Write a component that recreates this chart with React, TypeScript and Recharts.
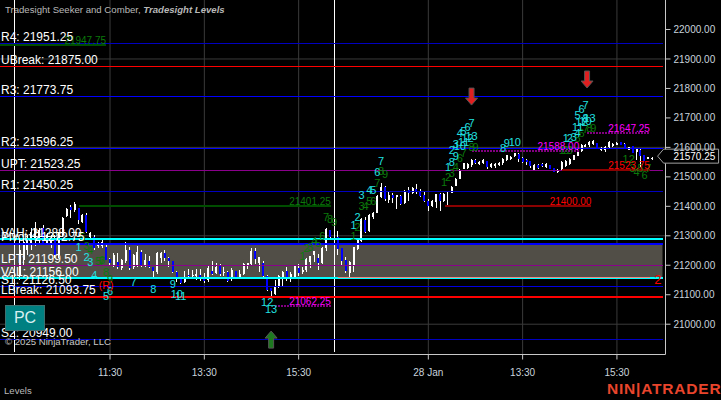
import React from 'react';
import {
  ComposedChart, Bar, Scatter, XAxis, YAxis, CartesianGrid, ReferenceLine, ReferenceArea,
} from 'recharts';

const FONT = '"Liberation Sans", Arial, sans-serif';

// 5 minute bars, index 0 is the left edge of the plot. Index 85 sits under the session line.
const firstBar = 5;
const opens = [
  21167, 21218, 21252, 21269, 21285, 21285, 21326, 21275, 21269, 21292, 21235, 21302, 21367, 21398, 21387, 21394,
  21347, 21370, 21296, 21296, 21265, 21265, 21262, 21221, 21201, 21211, 21191, 21214, 21252, 21194, 21201, 21245,
  21197, 21214, 21194, 21177, 21225, 21241, 21225, 21214, 21177, 21157, 21143, 21167, 21164, 21164, 21167, 21157,
  21150, 21180, 21174, 21197, 21174, 21177, 21157, 21180, 21157, 21170, 21201, 21204, 21248, 21208, 21208, 21164,
  21123, 21102, 21126, 21157, 21180, 21157, 21160, 21191, 21177, 21184, 21211, 21235, 21225, 21208, 21258, 21319,
  null, 21296, 21258, 21218, 21174, 21197, 21255, 21282, 21353, 21316, 21364, 21377, 21432, 21465, 21421, 21438,
  21432, 21435, 21411, 21455, 21445, 21459, 21448, 21438, 21418, 21401, 21415, 21442, 21418, 21448, 21445, 21469,
  21493, 21526, 21530, 21540, 21557, 21543, 21547, 21554, 21533, 21537, 21540, 21547, 21557, 21560, 21571, 21577,
  21564, 21557, 21554, 21523, 21540, 21543, 21533, 21540, 21530, 21516, 21523, 21537, 21543, 21557, 21571, 21588,
  21601, 21608, 21611, 21615, 21591, 21591, 21601, 21605, 21608, 21618, 21611, 21591, 21605, 21584, 21591, 21574,
  21560, 21560,
];
const highs = [
  21285, 21292, 21302, 21326, 21347, 21326, 21336, 21309, 21302, 21302, 21309, 21364, 21394, 21404, 21415, 21394,
  21374, 21377, 21313, 21302, 21279, 21285, 21269, 21225, 21241, 21241, 21221, 21279, 21262, 21238, 21265, 21252,
  21238, 21231, 21194, 21245, 21245, 21252, 21228, 21214, 21180, 21160, 21180, 21187, 21184, 21187, 21187, 21174,
  21197, 21214, 21208, 21204, 21194, 21180, 21191, 21180, 21184, 21208, 21208, 21258, 21258, 21228, 21214, 21167,
  21123, 21150, 21167, 21180, 21194, 21177, 21201, 21204, 21194, 21225, 21231, 21248, 21238, 21262, 21326, 21319,
  null, 21316, 21258, 21228, 21214, 21262, 21285, 21360, 21364, 21374, 21381, 21438, 21479, 21469, 21448, 21445,
  21438, 21438, 21455, 21465, 21465, 21476, 21459, 21448, 21425, 21421, 21442, 21445, 21445, 21452, 21469, 21496,
  21526, 21547, 21547, 21560, 21560, 21554, 21560, 21554, 21547, 21547, 21550, 21564, 21574, 21571, 21581, 21581,
  21567, 21560, 21554, 21543, 21543, 21547, 21547, 21540, 21530, 21526, 21554, 21557, 21564, 21574, 21594, 21611,
  21611, 21622, 21625, 21615, 21601, 21605, 21622, 21615, 21618, 21618, 21615, 21601, 21605, 21598, 21594, 21574,
  21567, 21567,
];
const lows = [
  21150, 21201, 21235, 21252, 21265, 21269, 21269, 21269, 21258, 21225, 21225, 21296, 21364, 21360, 21381, 21340,
  21343, 21309, 21292, 21252, 21258, 21258, 21218, 21197, 21194, 21187, 21184, 21208, 21184, 21187, 21194, 21194,
  21194, 21191, 21160, 21170, 21208, 21214, 21194, 21174, 21143, 21136, 21140, 21157, 21157, 21150, 21147, 21140,
  21143, 21167, 21170, 21164, 21164, 21143, 21147, 21153, 21153, 21167, 21187, 21201, 21204, 21177, 21160, 21113,
  21092, 21099, 21123, 21126, 21147, 21143, 21157, 21164, 21170, 21177, 21191, 21211, 21184, 21204, 21248, 21292,
  null, 21235, 21201, 21174, 21157, 21177, 21252, 21279, 21309, 21313, 21357, 21377, 21428, 21418, 21411, 21411,
  21391, 21404, 21408, 21418, 21442, 21442, 21432, 21415, 21384, 21398, 21394, 21384, 21415, 21398, 21445, 21469,
  21493, 21526, 21526, 21533, 21543, 21540, 21543, 21526, 21530, 21530, 21537, 21540, 21554, 21557, 21567, 21550,
  21547, 21540, 21530, 21520, 21526, 21533, 21530, 21526, 21516, 21513, 21523, 21533, 21540, 21557, 21571, 21584,
  21601, 21601, 21608, 21594, 21588, 21584, 21598, 21601, 21608, 21608, 21598, 21591, 21581, 21557, 21533, 21554,
  21560, 21557,
];
const closes = [
  21252, 21279, 21292, 21313, 21326, 21319, 21275, 21302, 21292, 21235, 21302, 21360, 21391, 21387, 21408, 21353,
  21370, 21313, 21309, 21258, 21275, 21279, 21218, 21208, 21235, 21194, 21218, 21252, 21191, 21235, 21245, 21201,
  21218, 21194, 21180, 21241, 21241, 21225, 21214, 21177, 21157, 21140, 21160, 21164, 21167, 21170, 21153, 21147,
  21191, 21170, 21194, 21170, 21177, 21147, 21184, 21157, 21170, 21204, 21208, 21248, 21221, 21228, 21164, 21116,
  21113, 21130, 21164, 21177, 21157, 21170, 21197, 21174, 21184, 21221, 21231, 21248, 21208, 21258, 21323, 21296,
  null, 21255, 21214, 21180, 21211, 21262, 21285, 21357, 21313, 21370, 21377, 21435, 21465, 21425, 21438, 21428,
  21438, 21408, 21452, 21445, 21462, 21448, 21435, 21418, 21401, 21418, 21442, 21418, 21442, 21452, 21465, 21493,
  21523, 21547, 21543, 21557, 21547, 21550, 21557, 21533, 21543, 21543, 21547, 21560, 21574, 21567, 21581, 21560,
  21550, 21550, 21537, 21540, 21530, 21537, 21543, 21526, 21516, 21523, 21550, 21554, 21560, 21574, 21591, 21608,
  21608, 21618, 21622, 21594, 21598, 21601, 21618, 21611, 21615, 21608, 21598, 21601, 21581, 21594, 21571, 21554,
  21567, 21564,
];

const priceTicks = [21000, 21100, 21200, 21300, 21400, 21500, 21600, 21700, 21800, 21900, 22000];
const gridPrices = [21000, 21300, 21600, 21900];
const timeTicks = [28, 52, 76, 109, 133, 157];
const timeLabels = ['11:30', '13:30', '15:30', '28 Jan', '13:30', '15:30'];
const sessionBars = [3.7, 85];

const levelNames = ['R4', 'UBreak', 'R3', 'R2', 'UPT', 'R1', 'VAH', 'Pivot', 'LPT', 'VAL', 'S1', 'LBreak', 'S2'];
const levelPrices = [21951.25, 21875, 21773.75, 21596.25, 21523.25, 21450.25, 21288, 21272.75, 21199.5, 21156, 21126.5, 21093.75, 20949];
const levelColors = ['#0000c0', '#ff0000', '#0000ff', '#0000ff', '#8b008b', '#0000c0', '#00ffff', '#0000ff', '#8b008b', '#00ffff', '#0000e0', '#ff0000', '#0000c0'];
const levelWidths = [1, 1, 1, 1, 1, 1, 2, 2, 1, 2, 1, 2, 1];

const greenSegments = [
  { from: 0, to: 27, price: 21947.75 },
  { from: 20, to: 84.2, price: 21401.25 },
];
const redSegments = [
  { from: 113.2, to: 150.5, price: 21400 },
  { from: 143, to: 165.4, price: 21523.75 },
];
const magentaSegments = [
  { from: 70, to: 84.2, price: 21062.25 },
  { from: 120, to: 147.4, price: 21588 },
  { from: 149.4, to: 165.4, price: 21647.25 },
];

type Mark = [number, number, string];

const cyanMarks: Mark[] = [
  [20, 21262, '1'], [22, 21228, '2'], [23, 21211, '3'], [24, 21167, '4'], [27, 21096, '5'], [28, 21113, '6'],
  [34, 21143, '7'], [39, 21119, '8'], [44, 21136, '9'], [45, 21102, '10'], [46, 21096, '11'], [68, 21075, '12'], [69, 21052, '13'],
  [90, 21336, '1'], [91, 21364, '2'], [92, 21438, '3'], [94, 21455, '4'], [95, 21455, '5'], [96, 21516, '6'], [97, 21554, '7'],
  [114, 21533, '1'], [115, 21550, '8'], [116, 21571, '9'], [115, 21591, '2'], [116, 21611, '3'], [117, 21605, '10'],
  [118, 21618, '11'], [119, 21632, '12'], [120, 21639, '13'], [117, 21649, '4'], [118, 21655, '5'], [119, 21669, '6'], [120, 21683, '7'],
  [128, 21598, '8'], [129, 21615, '9'], [131, 21618, '10'],
  [144, 21632, '1'], [145, 21632, '2'], [146, 21635, '3'], [147, 21649, '4'], [147, 21669, '11'], [148, 21686, '12'],
  [149, 21689, '10'], [150, 21700, '13'], [147, 21710, '5'], [148, 21730, '6'], [149, 21744, '7'], [149, 21700, '8'],
];

const greenMarks: Mark[] = [
  [21, 21296, '5'], [22, 21265, '3'], [23, 21252, '4'], [25, 21214, '5'], [26, 21218, '6'], [26, 21214, '7'], [27, 21177, '8'], [28, 21153, '9'],
  [77, 21231, '1'], [78, 21258, '2'], [79, 21262, '3'], [80, 21282, '4'], [81, 21275, '5'], [82, 21299, '6'], [83, 21364, '7'], [84, 21357, '8'], [85, 21347, '9'],
  [90, 21299, '1'], [91, 21330, '2'], [92, 21401, '3'], [93, 21401, '4'], [94, 21418, '5'], [95, 21418, '6'], [96, 21479, '7'], [97, 21520, '8'], [98, 21510, '9'],
  [113, 21482, '1'], [114, 21499, '2'], [115, 21513, '3'], [116, 21533, '4'], [117, 21564, '6'], [118, 21581, '7'], [120, 21601, '8'], [121, 21601, '9'],
  [143, 21591, '1'], [144, 21591, '2'], [145, 21591, '3'], [147, 21632, '5'], [148, 21649, '6'], [149, 21662, '7'], [150, 21666, '8'], [151, 21666, '9'],
  [160, 21560, '12'], [161, 21530, '3'], [162, 21516, '4'], [163, 21530, '5'], [164, 21506, '6'], [165, 21530, '7'],
];

const signalMarks: Mark[] = [[27, 21133, '(R)']];
const countMarks: Mark[] = [[167.4, 21153, '2']];
const upArrows = [{ bar: 69, price: 20946 }];
const downArrows = [{ bar: 120, price: 21774 }, { bar: 149.4, price: 21832 }];
const lastPrice = [{ bar: 167.6, price: 21570.25 }];

const candles = opens
  .map((open, i) => ({ bar: firstBar + i, open, high: highs[i], low: lows[i], close: closes[i] }))
  .filter((c) => c.high !== null);

const toPoints = (marks: Mark[]) => marks.map(([bar, price, text]) => ({ bar, price, text }));
const levelLabels = levelNames.map((name, i) => ({
  bar: 0,
  price: levelPrices[i],
  text: `${name}: ${levelPrices[i].toFixed(2)}`,
}));
const segLabels = (segs: { to: number; price: number }[]) =>
  segs.map((s) => ({ bar: s.to, price: s.price, text: s.price.toFixed(2) }));

const Candle = (props: any) => {
  const { x, y, width, height, payload } = props;
  const { open, high, low, close } = payload;
  const span = high - low || 1;
  const yOf = (v: number) => y + ((high - v) / span) * height;
  const top = yOf(Math.max(open, close));
  const bottom = yOf(Math.min(open, close));
  const color = close >= open ? '#ffffff' : '#0000ff';
  const cx = x + width / 2;
  return (
    <g shapeRendering="crispEdges">
      <rect x={Math.round(cx - 0.5)} y={y} width={1} height={height} fill="#ffffff" />
      <rect x={Math.round(cx - 1)} y={top} width={2} height={Math.max(bottom - top, 1)} fill={color} />
    </g>
  );
};

// text placed on a point, used by all the level and counter labels
const textAt = (fill: string, size: number, anchor: string, dx: number, dy: number) => (props: any) => (
  <text
    x={props.cx + dx}
    y={props.cy + dy}
    fill={fill}
    fontSize={size}
    fontFamily={FONT}
    textAnchor={anchor}
    dominantBaseline={dy === 0 ? 'central' : 'auto'}
  >
    {props.payload.text}
  </text>
);

const Arrow = (color: string, dir: number) => (props: any) => {
  const { cx, cy } = props;
  const d = dir;
  return (
    <polygon
      points={`${cx},${cy - 9 * d} ${cx + 6},${cy - 2 * d} ${cx + 2.5},${cy - 2 * d} ${cx + 2.5},${cy + 8 * d} ${cx - 2.5},${cy + 8 * d} ${cx - 2.5},${cy - 2 * d} ${cx - 6},${cy - 2 * d}`}
      fill={color}
      stroke="#555555"
      strokeWidth={1}
    />
  );
};

const PriceTag = (props: any) => {
  const { cx, cy } = props;
  return (
    <g>
      <polygon
        points={`${cx - 1},${cy} ${cx + 5},${cy - 7} ${cx + 60},${cy - 7} ${cx + 60},${cy + 7} ${cx + 5},${cy + 7}`}
        fill="#000000"
        stroke="#a0a0a0"
        strokeWidth={1}
      />
      <text x={cx + 15} y={cy + 3.5} fill="#ffffff" fontSize={10} fontFamily={FONT}>
        {props.payload.price.toFixed(2)}
      </text>
    </g>
  );
};

const tickStyle = { fill: '#c9d3dc', fontSize: 10, fontFamily: FONT };
const overlay = (x: number, y: number, extra: React.CSSProperties = {}): React.CSSProperties => ({
  position: 'absolute', left: x, top: y, fontFamily: FONT, whiteSpace: 'nowrap', ...extra,
});

export default function App() {
  return (
    <div style={{ position: 'fixed', left: 0, top: 0, width: 721, height: 400, background: '#000000', overflow: 'hidden' }}>
      <ComposedChart
        width={721}
        height={400}
        data={candles}
        margin={{ top: 0, right: 0, bottom: 0, left: 0 }}
      >
        <CartesianGrid stroke="#3a3a3a" horizontalValues={gridPrices} verticalValues={timeTicks} />
        <XAxis
          dataKey="bar"
          type="number"
          domain={[0, 169.36]}
          ticks={timeTicks}
          tickFormatter={(v: number) => timeLabels[timeTicks.indexOf(v)]}
          height={45.5}
          stroke="#c8c8c8"
          tick={tickStyle}
          tickSize={5}
          tickMargin={9}
          interval={0}
          allowDecimals
        />
        <YAxis
          dataKey="price"
          orientation="right"
          type="number"
          domain={[20897.2, 22100.1]}
          ticks={priceTicks}
          tickFormatter={(v: number) => v.toFixed(2)}
          width={55.5}
          stroke="#c8c8c8"
          tick={tickStyle}
          tickSize={5}
          tickMargin={3}
          interval={0}
        />
        <ReferenceArea x1={0} x2={168.6} y1={21156} y2={21272.75} fill="#504e47" fillOpacity={1} stroke="none" />
        <Bar
          dataKey={(d: any) => [d.low, d.high]}
          barSize={3}
          shape={Candle}
          isAnimationActive={false}
        />
        {sessionBars.map((b) => (
          <ReferenceLine
            key={b}
            segment={[{ x: b, y: 22100 }, { x: b, y: 20905 }]}
            stroke="#ffffff"
            strokeWidth={1}
            shapeRendering="crispEdges"
          />
        ))}
        {levelPrices.map((p, i) => (
          <ReferenceLine
            key={levelNames[i]}
            segment={[{ x: 0, y: p }, { x: 168.6, y: p }]}
            stroke={levelColors[i]}
            strokeWidth={levelWidths[i]}
            shapeRendering="crispEdges"
          />
        ))}
        <ReferenceLine segment={[{ x: 86, y: 21159 }, { x: 165.4, y: 21159 }]} stroke="#f08a80" strokeWidth={1} shapeRendering="crispEdges" />
        {greenSegments.map((s) => (
          <ReferenceLine key={s.price} segment={[{ x: s.from, y: s.price }, { x: s.to, y: s.price }]} stroke="#004d00" strokeWidth={2} shapeRendering="crispEdges" />
        ))}
        {redSegments.map((s) => (
          <ReferenceLine key={s.price} segment={[{ x: s.from, y: s.price }, { x: s.to, y: s.price }]} stroke="#8b0000" strokeWidth={2} shapeRendering="crispEdges" />
        ))}
        {magentaSegments.map((s) => (
          <ReferenceLine key={s.price} segment={[{ x: s.from, y: s.price }, { x: s.to, y: s.price }]} stroke="#800080" strokeWidth={2} strokeDasharray="2 1" shapeRendering="crispEdges" />
        ))}
        <Scatter data={toPoints(greenMarks)} shape={textAt('#0b7a0b', 11, 'middle', 0, 0)} isAnimationActive={false} />
        <Scatter data={toPoints(cyanMarks)} shape={textAt('#20e0e0', 11, 'middle', 0, 0)} isAnimationActive={false} />
        <Scatter data={toPoints(signalMarks)} shape={textAt('#ff0000', 10.5, 'middle', 0, 0)} isAnimationActive={false} />
        <Scatter data={toPoints(countMarks)} shape={textAt('#ff0000', 13, 'middle', 0, 0)} isAnimationActive={false} />
        <Scatter data={segLabels(greenSegments)} shape={textAt('#0b7a0b', 10, 'end', 0, -1)} isAnimationActive={false} />
        <Scatter data={segLabels(redSegments)} shape={textAt('#ff0000', 10, 'end', 0, -1)} isAnimationActive={false} />
        <Scatter data={segLabels(magentaSegments)} shape={textAt('#ff00ff', 10, 'end', 0, -1)} isAnimationActive={false} />
        <Scatter data={levelLabels} shape={textAt('#ffffff', 12, 'start', 1, -2.5)} isAnimationActive={false} />
        <Scatter data={upArrows} shape={Arrow('#1e7a1e', 1)} isAnimationActive={false} />
        <Scatter data={downArrows} shape={Arrow('#e02020', -1)} isAnimationActive={false} />
        <Scatter data={lastPrice} shape={PriceTag} isAnimationActive={false} />
      </ComposedChart>

      <div style={overlay(5, 4, { fontSize: 9.6, color: '#b8b8b8' })}>
        Tradesight Seeker and Comber, <span style={{ fontStyle: 'italic', fontWeight: 'bold' }}>Tradesight Levels</span>
      </div>
      <div style={overlay(5, 336, { fontSize: 9.6, color: '#c8c8c8' })}>© 2025 NinjaTrader, LLC</div>
      <div style={overlay(4, 385, { fontSize: 9.6, color: '#b8b8b8' })}>Levels</div>
      <div
        style={overlay(5, 305, {
          width: 40, height: 26, background: '#008080', border: '1px solid #3f6f6f', boxSizing: 'border-box',
          color: '#d8f0f0', fontSize: 16, lineHeight: '24px', textAlign: 'center',
        })}
      >
        PC
      </div>
      <div style={overlay(607, 380, { fontSize: 15.5, fontWeight: 'bold', letterSpacing: 0.8, color: '#e8452c' })}>NIN|ATRADER</div>
    </div>
  );
}
